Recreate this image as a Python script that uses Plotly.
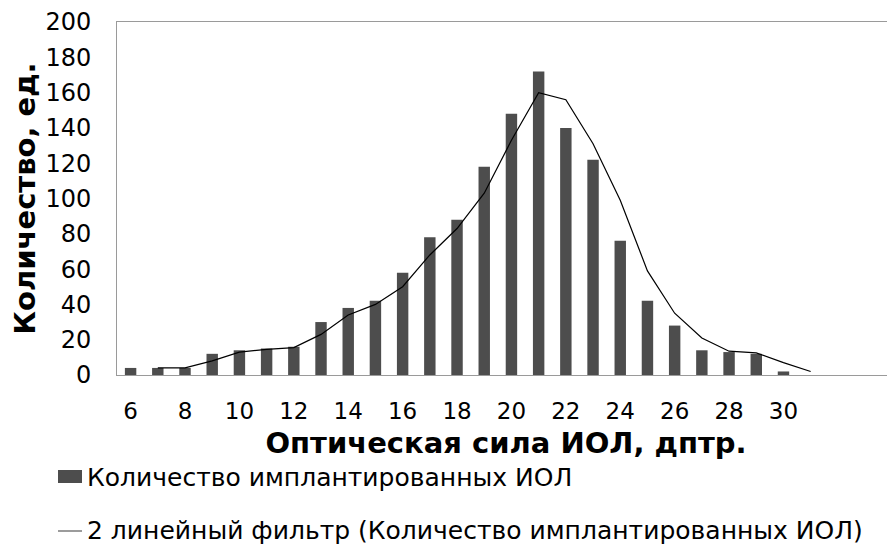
import plotly.graph_objects as go

# Optical power (dioptres) categories
diopters = [6, 7, 8, 9, 10, 11, 12, 13, 14, 15, 16, 17, 18, 19, 20, 21, 22, 23, 24, 25, 26, 27, 28, 29, 30]
# Number of implanted IOLs
counts = [4, 4, 4, 12, 14, 15, 16, 30, 38, 42, 58, 78, 88, 118, 148, 172, 140, 122, 76, 42, 28, 14, 13, 12, 2]

# 2-period moving average trendline
trend_x = [7, 8, 9, 10, 11, 12, 13, 14, 15, 16, 17, 18, 19, 20, 21, 22, 23, 24, 25, 26, 27, 28, 29, 30, 31]
trend_y = [4, 4, 8, 13, 14.5, 15.5, 23, 34, 40, 50, 68, 83, 103, 133, 160, 156, 131, 99, 59, 35, 21, 13.5, 12.5, 7, 2]

x_ticks = [6, 8, 10, 12, 14, 16, 18, 20, 22, 24, 26, 28, 30]
y_ticks = [0, 20, 40, 60, 80, 100, 120, 140, 160, 180, 200]

bar_name = "Количество имплантированных ИОЛ"
line_name = "2 линейный фильтр (Количество имплантированных ИОЛ)"

FONT = "DejaVu Sans"
BAR_COLOR = "#4d4d4d"

fig = go.Figure()
fig.add_trace(go.Bar(
    x=diopters, y=counts, width=0.42,
    marker=dict(color=BAR_COLOR, line=dict(width=0)),
    name=bar_name, showlegend=False,
))
fig.add_trace(go.Scatter(
    x=trend_x, y=trend_y, mode="lines",
    line=dict(color="black", width=1.2),
    name=line_name, showlegend=False,
))

# The page body adds an 8px offset, so the figure is sized/positioned for it
OFF = 8
W, H = 895 - OFF, 545 - OFF
L, R, T, B = 117 - OFF, 0, 22 - OFF, 170
pw, ph = W - L - R, H - T - B


def px(xs):
    # screen x -> paper fraction
    return (xs - OFF - L) / pw


def py(ys):
    # screen y -> paper fraction
    return (H - B - (ys - OFF)) / ph


shapes = [
    dict(type="rect", xref="paper", yref="paper",
         x0=px(58), x1=px(82), y0=py(483), y1=py(470),
         fillcolor=BAR_COLOR, line=dict(width=0)),
    dict(type="line", xref="paper", yref="paper",
         x0=px(58), x1=px(82), y0=py(531), y1=py(531),
         line=dict(color="#666666", width=1.3)),
]
annotations = [
    dict(text=bar_name, xref="paper", yref="paper", x=px(85), y=py(477),
         xanchor="left", yanchor="middle", showarrow=False,
         font=dict(family=FONT, size=25, color="black")),
    dict(text=line_name, xref="paper", yref="paper", x=px(85), y=py(530),
         xanchor="left", yanchor="middle", showarrow=False,
         font=dict(family=FONT, size=25, color="black")),
]

fig.update_layout(
    width=W, height=H,
    margin=dict(l=L, r=R, t=T, b=B),
    paper_bgcolor="white", plot_bgcolor="white",
    font=dict(family=FONT, color="black"),
    showlegend=False,
    shapes=shapes, annotations=annotations,
)
fig.update_xaxes(
    range=[5.5, 34.1],
    tickmode="array", tickvals=x_ticks, ticktext=[str(v) for v in x_ticks],
    tickfont=dict(family=FONT, size=23, color="black"),
    showgrid=False, zeroline=False, automargin=False,
    showline=True, linecolor="#9a9a9a", linewidth=1, mirror=True,
    ticks="", ticklabelstandoff=15,
    title=dict(text="<b>Оптическая сила ИОЛ, дптр.</b>",
               font=dict(family=FONT, size=29, color="black"), standoff=10),
)
fig.update_yaxes(
    range=[0, 200],
    tickmode="array", tickvals=y_ticks, ticktext=[str(v) for v in y_ticks],
    tickfont=dict(family=FONT, size=24, color="black"),
    showgrid=False, zeroline=False, automargin=False,
    showline=True, linecolor="#9a9a9a", linewidth=1, mirror=False,
    ticks="", ticklabelstandoff=20,
    title=dict(text="<b>Количество, ед.</b>",
               font=dict(family=FONT, size=29, color="black"), standoff=4),
)

fig.write_html("out.html")
